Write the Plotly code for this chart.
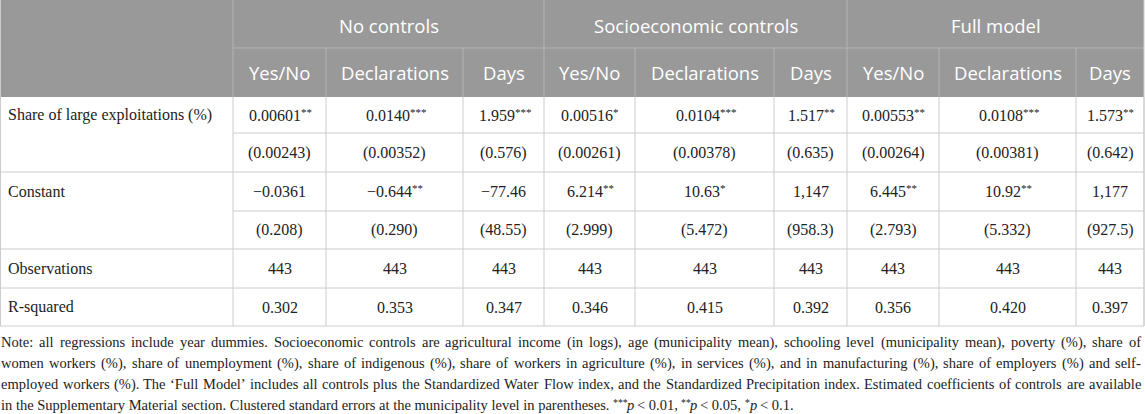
import plotly.graph_objects as go

# table content
groups = ["No controls", "Socioeconomic controls", "Full model"]
outcomes = ["Yes/No", "Declarations", "Days"]
row_labels = ["Share of large exploitations (%)", "Constant", "Observations", "R-squared"]

share_coef = ["0.00601**", "0.0140***", "1.959***", "0.00516*", "0.0104***", "1.517**",
              "0.00553**", "0.0108***", "1.573**"]
share_se = ["(0.00243)", "(0.00352)", "(0.576)", "(0.00261)", "(0.00378)", "(0.635)",
            "(0.00264)", "(0.00381)", "(0.642)"]
const_coef = ["\u22120.0361", "\u22120.644**", "\u221277.46", "6.214**", "10.63*", "1,147",
              "6.445**", "10.92**", "1,177"]
const_se = ["(0.208)", "(0.290)", "(48.55)", "(2.999)", "(5.472)", "(958.3)",
            "(2.793)", "(5.332)", "(927.5)"]
observations = ["443", "443", "443", "443", "443", "443", "443", "443", "443"]
r_squared = ["0.302", "0.353", "0.347", "0.346", "0.415", "0.392", "0.356", "0.420", "0.397"]

note_lines = [
    "Note: all regressions include year dummies. Socioeconomic controls are agricultural income (in logs), age (municipality mean), schooling level (municipality mean), poverty (%), share of",
    "women workers (%), share of unemployment (%), share of indigenous (%), share of workers in agriculture (%), in services (%), and in manufacturing (%), share of employers (%) and self-",
    "employed workers (%). The \u2018Full Model\u2019 includes all controls plus the Standardized Water Flow index, and the Standardized Precipitation index. Estimated coefficients of controls are available",
    "in the Supplementary Material section. Clustered standard errors at the municipality level in parentheses.",
]
p_levels = [("***", "0.01"), ("**", "0.05"), ("*", "0.1")]

# geometry (pixels)
W, H = 1145, 414
col_w = [233, 93, 137, 81, 91, 139, 73, 92, 137, 68]
head_h = [48, 49]
body_h = [36, 39, 39, 38, 39, 38]
note_top = 342
note_step = 21
note_right = 1141

HEAD_BG = "#999999"
HEAD_LINE = "#b4b4b4"
GRID = "#cccccc"
TXT = "#222222"
SERIF = "Liberation Serif"
SANS = "Open Sans"
HEAD_SIZE = 18.5
BODY_SIZE = 16
NOTE_SIZE = 14.5
STAR_RATIO = 0.68
STAR_RAISE = 0.2
STAR_ADV = 0.85

# Times/Liberation Serif advance widths (1/1000 em)
TW = {" ": 250, ".": 250, ",": 250, ":": 278, ";": 278, "(": 333, ")": 333, "%": 833,
      "-": 333, "\u2018": 333, "\u2019": 333, "*": 500, "<": 564, "\u2212": 564}
TW.update({c: 500 for c in "0123456789"})
TW.update(dict(zip("abcdefghijklmnopqrstuvwxyz",
                   [444, 500, 444, 500, 444, 333, 500, 500, 278, 278, 500, 278, 778,
                    500, 500, 500, 500, 333, 389, 278, 500, 500, 722, 500, 500, 444])))
TW.update(dict(zip("ABCDEFGHIJKLMNOPQRSTUVWXYZ",
                   [722, 667, 667, 722, 611, 556, 722, 722, 333, 389, 722, 611, 889,
                    722, 722, 556, 722, 667, 556, 611, 722, 722, 944, 722, 722, 611])))


def text_width(s, size):
    return sum(TW.get(ch, 500) for ch in s) * size / 1000.0


col_x = [0]
for w in col_w:
    col_x.append(col_x[-1] + w)
right = col_x[-1]
head_y = [0, head_h[0], head_h[0] + head_h[1]]
row_y = [head_y[-1]]
for h in body_h:
    row_y.append(row_y[-1] + h)

shapes = []
annotations = []


def line(x0, y0, x1, y1, color):
    shapes.append(dict(type="line", x0=x0, y0=y0, x1=x1, y1=y1, xref="x", yref="y",
                       line=dict(color=color, width=1)))


def text(x, y, s, size, color, family, anchor="center"):
    annotations.append(dict(x=x, y=y, text=s, showarrow=False, xref="x", yref="y",
                            xanchor=anchor, yanchor="middle", borderpad=0, borderwidth=0,
                            font=dict(size=size, color=color, family=family)))


def runs(x, y, pieces, size):
    # pieces: (text, kind) with kind in "n" normal, "s" raised star, "i" italic
    for s, kind in pieces:
        if kind == "s":
            ss = size * STAR_RATIO
            text(x, y - size * STAR_RAISE, s, ss, TXT, SERIF, anchor="left")
            x += text_width(s, ss) * STAR_ADV
        else:
            t = s.strip()
            x += text_width(s[:len(s) - len(s.lstrip())], size)
            text(x, y, "<i>" + t + "</i>" if kind == "i" else t, size, TXT, SERIF, anchor="left")
            x += text_width(t, size) + text_width(s[len(s.rstrip()):], size)
    return x


def cell_value(cx, cy, v):
    base = v.rstrip("*")
    st = v[len(base):]
    if not st:
        text(cx, cy, v, BODY_SIZE, TXT, SERIF)
        return
    total = text_width(base, BODY_SIZE) + text_width(st, BODY_SIZE * STAR_RATIO) * STAR_ADV
    runs(cx - total / 2, cy, [(base, "n"), (st, "s")], BODY_SIZE)


# header block
shapes.append(dict(type="rect", x0=0, y0=0, x1=right, y1=head_y[-1], xref="x", yref="y",
                   fillcolor=HEAD_BG, line=dict(width=0), layer="below"))
line(col_x[1], head_y[1], right, head_y[1], HEAD_LINE)
for i, x in enumerate(col_x[1:-1], start=1):
    top = 0 if (i - 1) % 3 == 0 else head_y[1]
    line(x, top, x, head_y[-1], HEAD_LINE)

for g, name in enumerate(groups):
    x0 = col_x[1 + 3 * g]
    x1 = col_x[4 + 3 * g]
    text((x0 + x1) / 2, head_y[1] / 2 + 1, name, HEAD_SIZE, "white", SANS)
    for k, o in enumerate(outcomes):
        c = 1 + 3 * g + k
        text((col_x[c] + col_x[c + 1]) / 2, (head_y[1] + head_y[2]) / 2, o,
             HEAD_SIZE, "white", SANS)

# body grid
for r in range(1, len(row_y)):
    start = col_x[1] if r in (1, 3) else 0
    line(start, row_y[r], right, row_y[r], GRID)
for x in col_x[1:]:
    line(x, row_y[0], x, row_y[-1], GRID)
line(0.5, 0, 0.5, row_y[-1], GRID)
line(right, 0, right, row_y[-1], GRID)

body_rows = [share_coef, share_se, const_coef, const_se, observations, r_squared]
for r, vals in enumerate(body_rows):
    yc = (row_y[r] + row_y[r + 1]) / 2
    for c, v in enumerate(vals):
        cell_value((col_x[c + 1] + col_x[c + 2]) / 2, yc, v)

label_rows = [0, 2, 4, 5]
for lab, r in zip(row_labels, label_rows):
    text(8, (row_y[r] + row_y[r + 1]) / 2, lab, BODY_SIZE, TXT, SERIF, anchor="left")

# note: justified lines, last one left as is with the p-value key
for i, s in enumerate(note_lines):
    y = note_top + i * note_step
    if i == len(note_lines) - 1:
        pieces = [(s + " ", "n")]
        for j, (st, lv) in enumerate(p_levels):
            end = ", " if j < len(p_levels) - 1 else "."
            pieces += [(st, "s"), ("p", "i"), (" < " + lv + end, "n")]
        runs(1, y, pieces, NOTE_SIZE)
        continue
    words = s.split(" ")
    widths = [text_width(w, NOTE_SIZE) for w in words]
    gap = (note_right - 1 - sum(widths)) / (len(words) - 1)
    x = 1
    for w, wd in zip(words, widths):
        text(x, y, w, NOTE_SIZE, TXT, SERIF, anchor="left")
        x += wd + gap

fig = go.Figure()
fig.update_layout(
    width=W, height=H,
    margin=dict(l=0, r=0, t=0, b=0),
    paper_bgcolor="white", plot_bgcolor="white",
    xaxis=dict(range=[0, W], visible=False, fixedrange=True),
    yaxis=dict(range=[H, 0], visible=False, fixedrange=True),
    shapes=shapes, annotations=annotations, showlegend=False,
)

fig.write_html("out.html", config={"displayModeBar": False},
               post_script="document.body.style.margin='0';")
